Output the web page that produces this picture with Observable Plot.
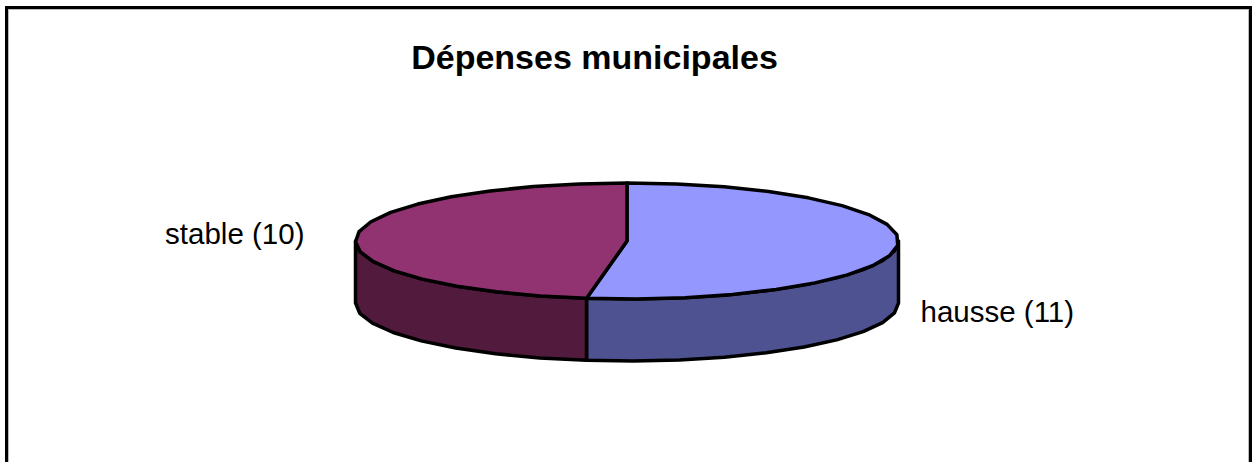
<!DOCTYPE html>
<html>
<head>
<meta charset="utf-8">
<script src="https://cdn.jsdelivr.net/npm/d3@7"></script>
<script src="https://cdn.jsdelivr.net/npm/@observablehq/plot@0.6"></script>
<style>
  html, body { margin: 0; padding: 0; background: #fff; }
  #wrap { position: relative; width: 1253px; height: 462px; overflow: hidden; }
  #border { position: absolute; left: 5px; top: 6px; right: 1px; height: 470px;
            border: 3px solid #000; border-bottom: none; box-sizing: border-box; pointer-events: none; }
  #border::after { content: ""; position: absolute; left: 0; top: 0; right: 0; bottom: 0;
            border: 1px solid #bbb; border-bottom: none; }
</style>
</head>
<body>
<div id="wrap"><div id="chart"></div><div id="border"></div></div>
<script>
// ---- data ----
const categories = ["hausse", "stable"];
const values = [11, 10];
const labels = ["hausse (11)", "stable (10)"];
const title = "Dépenses municipales";

// ---- styles ----
const topColors = ["#9497fe", "#903370"];
const sideColors = ["#4e5291", "#521a3d"];
const tilt = 0.2136;   // ellipse vertical/horizontal ratio
const depth = 0.2284;  // thickness of the pie in radius units
const segmentsPerTurn = 34; // coarse polygon outline, like the original

const total = d3.sum(values);
let acc = 0;
const slices = values.map((v, i) => {
  const a0 = acc / total * 2 * Math.PI;
  acc += v;
  const a1 = acc / total * 2 * Math.PI;
  return {i, a0, a1};
});

const pt = (a, drop = 0) => ({x: Math.sin(a), y: tilt * Math.cos(a) - drop});
function arc(a0, a1, drop = 0) {
  const n = Math.max(2, Math.ceil(Math.abs(a1 - a0) / (2 * Math.PI) * segmentsPerTurn));
  const out = [];
  for (let k = 0; k <= n; k++) out.push(pt(a0 + (a1 - a0) * k / n, drop));
  return out;
}

const marks = [];
// visible side walls (front half: angles between PI/2 and 3PI/2)
slices.forEach(s => {
  const s0 = Math.max(s.a0, Math.PI / 2), s1 = Math.min(s.a1, 3 * Math.PI / 2);
  if (s1 <= s0) return;
  const poly = [...arc(s0, s1), ...arc(s1, s0, depth)];
  poly.push(poly[0]);
  marks.push(Plot.line(poly, {x: "x", y: "y", fill: sideColors[s.i], stroke: "#000",
    strokeWidth: 3.5, strokeLinejoin: "round", curve: "linear"}));
});
// top faces
slices.forEach(s => {
  const poly = [{x: 0, y: 0}, ...arc(s.a0, s.a1), {x: 0, y: 0}];
  marks.push(Plot.line(poly, {x: "x", y: "y", fill: topColors[s.i], stroke: "#000",
    strokeWidth: 3.5, strokeLinejoin: "round", curve: "linear"}));
});

// labels (outside the pie, Excel-like placement)
const labelData = slices.map(s => {
  const mid = (s.a0 + s.a1) / 2;
  const right = Math.sin(mid) > 0;
  return {
    text: labels[s.i],
    x: right ? 1.081 : -1.188,
    y: right ? -0.2965 : -0.0092,
    anchor: right ? "start" : "end"
  };
});
labelData.forEach(d => {
  marks.push(Plot.text([d], {x: "x", y: "y", text: "text", textAnchor: d.anchor,
    lineAnchor: "bottom", fontSize: 29.5, fill: "#000"}));
});

// title
marks.push(Plot.text([{x: -0.1197, y: 0.6317, t: title}], {x: "x", y: "y", text: "t",
  lineAnchor: "bottom", fontSize: 34, fontWeight: "bold", fill: "#000"}));

const chart = Plot.plot({
  width: 1253,
  height: 462,
  margin: 0,
  style: {fontFamily: "'Liberation Sans', Arial, sans-serif", background: "transparent", overflow: "visible"},
  x: {domain: [-2.3076, 2.3076], axis: null},
  y: {domain: [-0.8158, 0.8858], axis: null},
  marks
});
document.getElementById("chart").appendChild(chart);
</script>
</body>
</html>
